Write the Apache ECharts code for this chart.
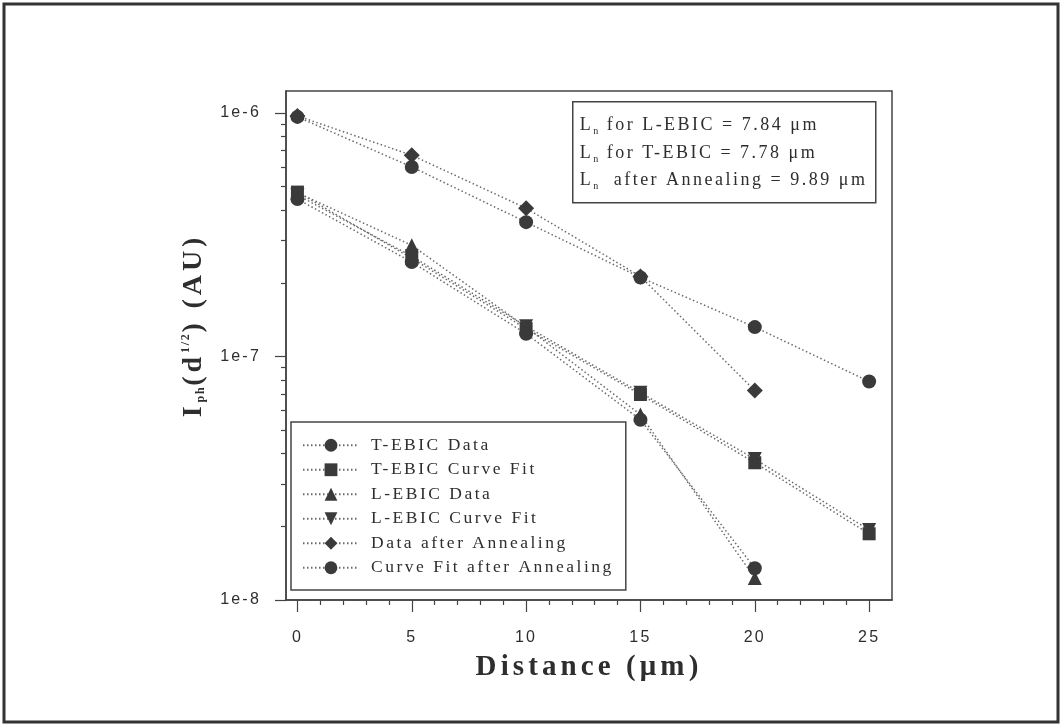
<!DOCTYPE html>
<html>
<head>
<meta charset="utf-8">
<script src="https://cdn.jsdelivr.net/npm/echarts@6/dist/echarts.min.js"></script>
<style>
  html, body { margin: 0; background: #fff; }
  #chart { width: 1062px; height: 726px; }
</style>
</head>
<body>
<div id="chart"></div>
<script>
// values
const distance = [0, 5, 10, 15, 20, 25]
const tEbicData = [4.43e-7, 2.44e-7, 1.24e-7, 5.5e-8, 1.35e-8]
const tEbicFit = [4.73e-7, 2.53e-7, 1.30e-7, 6.98e-8, 3.66e-8, 1.87e-8]
const lEbicData = [4.7e-7, 2.86e-7, 1.32e-7, 5.77e-8, 1.23e-8]
const lEbicFit = [4.6e-7, 2.58e-7, 1.33e-7, 7.1e-8, 3.79e-8, 1.94e-8]
const annealData = [9.72e-7, 6.7e-7, 4.06e-7, 2.13e-7, 7.24e-8]
const annealFit = [9.63e-7, 6.0e-7, 3.56e-7, 2.11e-7, 1.32e-7, 7.89e-8]

const seriesNames = ['T-EBIC Data', 'T-EBIC Curve Fit', 'L-EBIC Data', 'L-EBIC Curve Fit', 'Data after Annealing', 'Curve Fit after Annealing']
const xMajorTicks = [0, 5, 10, 15, 20, 25]
const xMinorTicks = [1, 2, 3, 4, 6, 7, 8, 9, 11, 12, 13, 14, 16, 17, 18, 19, 21, 22, 23, 24]
const yMajorTicks = [1e-8, 1e-7, 1e-6]
const yMinorTicks = [2e-8, 3e-8, 4e-8, 5e-8, 6e-8, 7e-8, 8e-8, 9e-8, 2e-7, 3e-7, 4e-7, 5e-7, 6e-7, 7e-7, 8e-7, 9e-7]
const boxLines = [
  'L{n|n} for L-EBIC = 7.84 μm',
  'L{n|n} for T-EBIC = 7.78 μm',
  'L{n|n}  after Annealing = 9.89 μm'
]

// the scan uses widely spaced type, give canvas text a little letter spacing
const proto = CanvasRenderingContext2D.prototype
;['fillText', 'strokeText', 'measureText'].forEach(fn => {
  const orig = proto[fn]
  proto[fn] = function () {
    const m = /(\d+(\.\d+)?)px/.exec(this.font)
    this.letterSpacing = m ? (m[1] * 0.14).toFixed(1) + 'px' : '0px'
    return orig.apply(this, arguments)
  }
})

const ink = '#2e2e2e'
const serif = 'Liberation Serif'
const sans = 'Liberation Sans'

function pairs (ys) {
  return ys.map((v, i) => [distance[i], v])
}

function lineSeries (name, ys, symbol, size) {
  return {
    name: name,
    type: 'line',
    data: pairs(ys),
    symbol: symbol,
    symbolSize: size,
    itemStyle: { color: '#3a3a3a' },
    lineStyle: { color: '#6a6a6a', width: 1.5, type: [1.5, 2.5] },
    emphasis: { disabled: true }
  }
}

const downTriangle = 'path://M0,0 L10,0 L5,9 Z'

let myChart = echarts.init(document.getElementById('chart'))
myChart.setOption({
  animation: false,
  backgroundColor: '#fff',
  grid: {
    left: 286,
    right: 170,
    top: 91,
    bottom: 126,
    show: true,
    borderColor: '#444',
    borderWidth: 1.5
  },
  legend: {
    orient: 'vertical',
    left: 291,
    top: 422,
    selectedMode: false,
    itemWidth: 56,
    itemHeight: 16,
    itemGap: 4,
    padding: [13, 12, 12, 11],
    borderColor: '#444',
    borderWidth: 1.5,
    textStyle: { fontFamily: serif, fontSize: 17.5, lineHeight: 18, color: ink, padding: [0, 0, 0, 7] },
    data: seriesNames
  },
  xAxis: [
    {
      type: 'value',
      min: -0.5,
      max: 26,
      name: 'Distance (μm)',
      nameLocation: 'middle',
      nameGap: 44,
      nameTextStyle: { fontFamily: serif, fontWeight: 'bold', fontSize: 29, color: ink },
      axisLine: { onZero: false, lineStyle: { color: '#444', width: 1.5 } },
      axisTick: { customValues: xMajorTicks, length: 12, lineStyle: { color: '#444', width: 1.2 } },
      axisLabel: { customValues: xMajorTicks, margin: 28, fontFamily: sans, fontSize: 16, color: ink },
      splitLine: { show: false }
    },
    {
      type: 'value',
      position: 'bottom',
      min: -0.5,
      max: 26,
      axisLine: { show: false, onZero: false },
      axisTick: { customValues: xMinorTicks, length: 5, lineStyle: { color: '#444', width: 1.2 } },
      axisLabel: { show: false },
      splitLine: { show: false }
    }
  ],
  yAxis: [
    {
      type: 'log',
      logBase: 10,
      min: 1e-8,
      max: 1.23e-6,
      name: 'I{sub|ph}(d{sup|1/2}) (AU)',
      nameLocation: 'middle',
      nameRotate: 90,
      nameGap: 74,
      nameTextStyle: {
        fontFamily: serif,
        fontWeight: 'bold',
        fontSize: 28,
        color: ink,
        padding: [0, 0, 0, 40],
        rich: {
          sub: { fontFamily: serif, fontSize: 12, color: ink, padding: [16, 0, 0, 0] },
          sup: { fontFamily: serif, fontSize: 12, color: ink, padding: [0, 0, 14, 0] }
        }
      },
      axisLine: { onZero: false, lineStyle: { color: '#444', width: 1.5 } },
      axisTick: { customValues: yMajorTicks, length: 11, lineStyle: { color: '#444', width: 1.2 } },
      axisLabel: {
        customValues: yMajorTicks,
        margin: 25,
        fontFamily: sans,
        fontSize: 16,
        color: ink,
        formatter: v => '1e' + Math.round(Math.log10(v))
      },
      splitLine: { show: false }
    },
    {
      type: 'log',
      logBase: 10,
      position: 'left',
      min: 1e-8,
      max: 1.23e-6,
      axisLine: { show: false, onZero: false },
      axisTick: { customValues: yMinorTicks, length: 5, lineStyle: { color: '#444', width: 1.2 } },
      axisLabel: { show: false },
      splitLine: { show: false }
    }
  ],
  graphic: [
    {
      type: 'rect',
      shape: { x: 4, y: 4, width: 1054, height: 718 },
      style: { fill: 'none', stroke: '#333', lineWidth: 3 },
      silent: true
    },
    {
      type: 'group',
      left: 572,
      top: 101,
      children: [
        {
          type: 'rect',
          shape: { x: 0, y: 0, width: 303, height: 101 },
          style: { fill: '#fff', stroke: '#444', lineWidth: 1.5 }
        }
      ].concat(boxLines.map((t, i) => ({
        type: 'text',
        x: 7,
        y: 24 + i * 27.5,
        style: {
          text: t,
          fontFamily: serif,
          fontSize: 18,
          fill: ink,
          verticalAlign: 'middle',
          rich: { n: { fontFamily: serif, fontSize: 10, fill: ink, padding: [12, 0, 0, 0] } }
        }
      })))
    }
  ],
  series: [
    lineSeries(seriesNames[0], tEbicData, 'circle', 14),
    lineSeries(seriesNames[1], tEbicFit, 'rect', 13),
    lineSeries(seriesNames[2], lEbicData, 'triangle', 14),
    lineSeries(seriesNames[3], lEbicFit, downTriangle, 14),
    lineSeries(seriesNames[4], annealData, 'diamond', 16),
    lineSeries(seriesNames[5], annealFit, 'circle', 14)
  ]
})
</script>
</body>
</html>
